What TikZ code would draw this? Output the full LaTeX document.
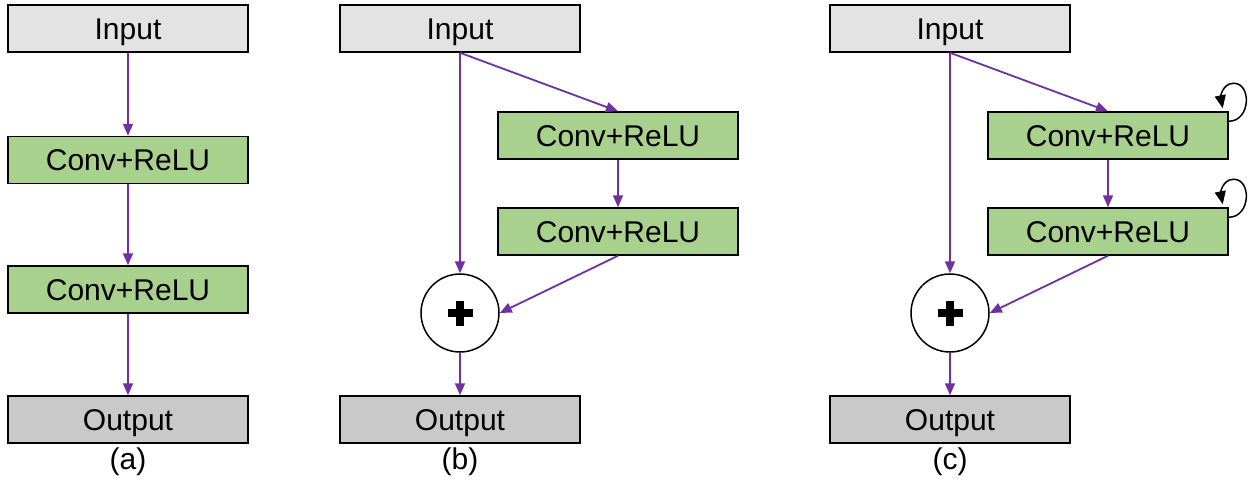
\documentclass[tikz,border=0pt]{standalone}
\usepackage{fontspec}
\setmainfont{Liberation Sans}
\usetikzlibrary{arrows.meta,calc}
\definecolor{inp}{HTML}{E3E3E3}
\definecolor{outp}{HTML}{C9C9C9}
\definecolor{grn}{HTML}{A9D18E}
\definecolor{purp}{HTML}{7030A0}
\begin{document}
\begin{tikzpicture}[x=1pt,y=-1pt,
  font=\fontsize{30}{35}\selectfont,
  box/.style={draw=black,line width=1.5pt,minimum width=240pt,minimum height=47pt,inner sep=0pt,text height=21.5pt,text depth=0pt},
  inbox/.style={box,fill=inp},
  outbox/.style={box,fill=outp},
  convbox/.style={box,fill=grn},
  sumnode/.style={circle,draw=black,line width=1.5pt,fill=white,minimum size=78pt,inner sep=0pt},
  sublabel/.style={inner sep=0pt,text height=21.5pt,text depth=5pt},
  flow/.style={draw=purp,line width=1.8pt,-{Triangle[length=12pt,width=10pt]}},
  selfloop/.style={draw=black,line width=1.5pt,-{Triangle[length=13pt,width=11pt]}},
  plusbar/.style={line width=8.5pt,black}
]
\useasboundingbox (0,0) rectangle (1253,483);
% (a)
\node[inbox]   (ia)  at (128,28.5) {Input};
\node[convbox] (c1a) at (128,160) {Conv+ReLU};
\node[convbox] (c2a) at (128,289.5) {Conv+ReLU};
\node[outbox]  (oa)  at (128,419.5) {Output};
\node[sublabel] (la) at (128,461) {(a)};
\draw[flow] (ia) -- (c1a);
\draw[flow] (c1a) -- (c2a);
\draw[flow] (c2a) -- (oa);
% (b)
\node[inbox]   (ib)  at (460,28.5) {Input};
\node[convbox] (c1b) at (618,135.5) {Conv+ReLU};
\node[convbox] (c2b) at (618,231.5) {Conv+ReLU};
\node[sumnode] (sb)  at (460,313) {};
\node[outbox]  (ob)  at (460,419.5) {Output};
\node[sublabel] (lb) at (460,461) {(b)};
\draw[plusbar] ($(sb.center)+(-12.5,0)$) -- ($(sb.center)+(12.5,0)$);
\draw[plusbar] ($(sb.center)+(0,-12.5)$) -- ($(sb.center)+(0,12.5)$);
\draw[flow] (ib.south) -- (c1b.north);
\draw[flow] (ib.south) -- (sb.north);
\draw[flow] (c1b) -- (c2b);
\draw[flow] (c2b.south) -- (sb.east);
\draw[flow] (sb) -- (ob);
% (c)
\node[inbox]   (ic)  at (950,28.5) {Input};
\node[convbox] (c1c) at (1108,135.5) {Conv+ReLU};
\node[convbox] (c2c) at (1108,231.5) {Conv+ReLU};
\node[sumnode] (sc)  at (950,313) {};
\node[outbox]  (oc)  at (950,419.5) {Output};
\node[sublabel] (lc) at (950,461) {(c)};
\draw[plusbar] ($(sc.center)+(-12.5,0)$) -- ($(sc.center)+(12.5,0)$);
\draw[plusbar] ($(sc.center)+(0,-12.5)$) -- ($(sc.center)+(0,12.5)$);
\draw[flow] (ic.south) -- (c1c.north);
\draw[flow] (ic.south) -- (sc.north);
\draw[flow] (c1c) -- (c2c);
\draw[flow] (c2c.south) -- (sc.east);
\draw[flow] (sc) -- (oc);
\foreach \b in {c1c,c2c}{
  \draw[selfloop] ($(\b.north east)+(0,10)$) .. controls +(22,0) and +(18,0) .. ($(\b.north east)+(5,-28)$)
     .. controls +(-12,0) and +(-2,-10) .. ($(\b.north east)+(-6,-3)$);
}
\end{tikzpicture}
\end{document}
